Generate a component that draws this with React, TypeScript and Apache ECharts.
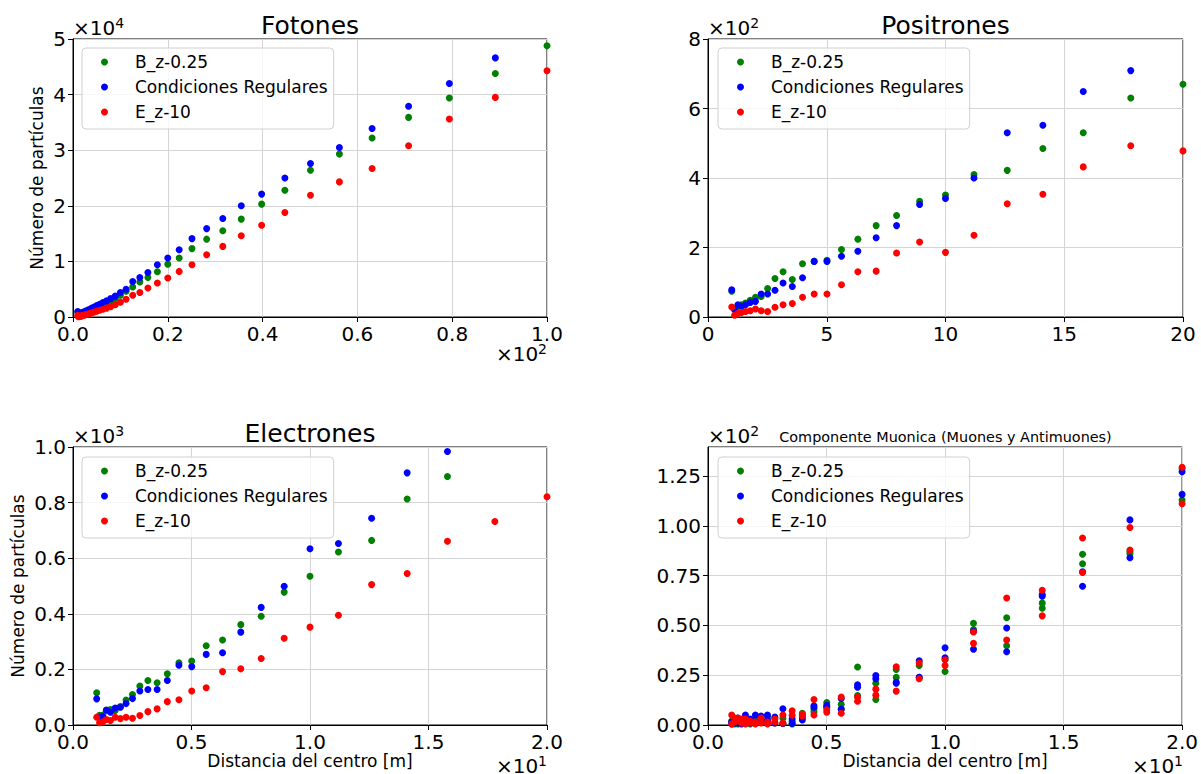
import React, { useEffect, useRef } from "react";
import * as echarts from "echarts";

const FONT = "DejaVu Sans";

// Distances from centre [m]
const distLong = [1.0, 1.12, 1.26, 1.41, 1.58, 1.78, 2.0, 2.24, 2.51, 2.82, 3.16, 3.55, 3.98, 4.47, 5.01, 5.62, 6.31, 7.08, 7.94, 8.91, 10.0, 11.2, 12.6, 14.1, 15.8, 17.8, 20.0, 22.4, 25.1, 28.2, 31.6, 35.5, 39.8, 44.7, 50.1, 56.2, 63.1, 70.8, 79.4, 89.1, 100.0];
const distShort = [1.0, 1.12, 1.26, 1.41, 1.58, 1.78, 2.0, 2.24, 2.51, 2.82, 3.16, 3.55, 3.98, 4.47, 5.01, 5.62, 6.31, 7.08, 7.94, 8.91, 10.0, 11.2, 12.6, 14.1, 15.8, 17.8, 20.0];

const seriesNames = ["B_z-0.25", "Condiciones Regulares", "E_z-10"];
const seriesColors = ["#008000", "#0000ff", "#ff0000"];

// Fotones
const fotGreen = [900, 350, 400, 450, 500, 550, 600, 700, 800, 900, 1000, 1150, 1300, 1500, 1700, 1950, 2200, 2500, 2850, 3300, 3900, 4650, 5400, 6300, 7100, 8150, 9500, 10600, 12300, 14000, 15500, 17600, 20300, 22800, 26400, 29300, 32200, 35900, 39400, 43800, 48800];
const fotBlue = [1000, 450, 500, 550, 600, 700, 800, 900, 1000, 1100, 1250, 1400, 1600, 1800, 2050, 2300, 2600, 2900, 3300, 3750, 4400, 5000, 6400, 7100, 8000, 9400, 10600, 12100, 14100, 15900, 17700, 20000, 22100, 25000, 27600, 30500, 33900, 37900, 42000, 46600];
const fotRed = [300, 50, 80, 100, 150, 200, 250, 300, 350, 450, 550, 650, 750, 900, 1050, 1200, 1400, 1600, 1850, 2200, 2650, 3200, 3900, 4400, 5200, 6100, 7000, 8200, 9400, 11200, 12700, 14600, 16500, 18800, 21900, 24300, 26700, 30800, 35600, 39500, 44300];

// Positrones
const posGreen = [74, 25, 30, 35, 40, 48, 57, 59, 82, 111, 130, 108, 153, 160, 163, 194, 224, 263, 292, 333, 351, 410, 422, 485, 530, 630, 670];
const posBlue = [78, 21, 35, 31, 35, 42, 45, 66, 66, 77, 98, 88, 113, 160, 160, 175, 189, 228, 263, 324, 341, 400, 530, 552, 649, 709];
const posRed = [29, 5, 10, 13, 16, 18, 23, 18, 16, 28, 35, 39, 57, 66, 66, 93, 130, 132, 184, 216, 186, 235, 326, 353, 432, 493, 478];

// Electrones
const eleGreen = [116, 35, 36, 54, 56, 52, 66, 90, 110, 140, 160, 152, 184, 224, 230, 285, 306, 361, 391, 478, 535, 622, 664, 813, 894];
const eleBlue = [94, 28, 30, 53, 46, 61, 64, 77, 95, 122, 128, 128, 160, 215, 210, 254, 260, 334, 423, 499, 634, 653, 744, 907, 984];
const eleRed = [28, 8, 12, 20, 16, 28, 23, 28, 24, 34, 48, 58, 84, 91, 122, 134, 192, 202, 239, 312, 352, 395, 505, 545, 661, 732, 821];

// Componente muonica (muones / antimuones)
const muGreenA = [2.0, 1.0, 2.0, 1.5, 3.0, 2.0, 3.0, 2.5, 4.0, 3.5, 3.4, 1.7, 5.9, 7.9, 11.3, 10.4, 29.1, 21.0, 27.9, 29.9, 33.0, 51.1, 53.9, 61.2, 85.7, 87.0, 128.5];
const muGreenB = [1.0, 0.5, 0.5, 1.0, 1.0, 0.5, 1.0, 2.0, 1.5, 1.0, 0.8, 0.5, 5.0, 6.5, 9.0, 7.9, 14.8, 12.8, 23.9, 24.0, 26.9, 47.9, 39.8, 58.6, 81.0, 86.0, 113.0];
const muBlueA = [1.5, 2.0, 3.5, 2.5, 5.0, 3.0, 5.0, 4.5, 5.0, 4.0, 8.2, 3.0, 3.7, 9.7, 9.9, 13.3, 20.2, 24.9, 21.0, 32.3, 38.8, 38.0, 48.7, 65.5, 69.7, 103.0, 127.2];
const muBlueB = [0.5, 1.0, 1.0, 0.5, 2.0, 1.0, 1.5, 2.0, 2.5, 1.0, 0.8, 0.8, 2.5, 8.9, 9.0, 8.0, 19.0, 23.2, 21.5, 23.9, 33.8, 47.0, 36.8, 64.7, 77.0, 84.0, 115.8];
const muRedA = [5.0, 3.5, 3.5, 3.0, 3.0, 2.0, 1.5, 3.5, 1.5, 3.0, 5.0, 7.1, 5.4, 12.8, 7.6, 14.1, 13.9, 18.0, 29.2, 31.1, 32.8, 46.7, 63.8, 67.7, 93.9, 99.2, 129.4];
const muRedB = [0.5, 1.5, 2.5, 1.0, 0.5, 1.0, 0.5, 1.0, 0.5, 1.5, 1.0, 4.9, 4.5, 5.0, 6.4, 5.9, 11.9, 15.0, 17.0, 23.2, 29.9, 41.0, 42.7, 54.8, 76.6, 87.9, 111.1];

const pts = (xs: number[], ys: number[]) => ys.map((y, i) => [xs[i], y]);

const grids = [
  { left: 73, top: 39, width: 474, height: 278 },
  { left: 708, top: 39, width: 475, height: 278 },
  { left: 73, top: 447, width: 474, height: 278 },
  { left: 708, top: 447, width: 475, height: 278 },
];

function axisCommon() {
  return {
    axisLine: { show: true, onZero: false, lineStyle: { color: "#000", width: 1 } },
    axisTick: { show: true, length: 5, lineStyle: { color: "#000", width: 1 } },
    splitLine: { show: true, lineStyle: { color: "#d4d4d4", width: 1 } },
  };
}

function labelStyle(formatter: (v: number) => string, margin: number) {
  return { fontSize: 20, color: "#000", fontFamily: FONT, margin, formatter };
}

export default function App() {
  const ref = useRef<HTMLDivElement>(null);

  useEffect(() => {
    if (!ref.current) return;
    const chart = echarts.init(ref.current, undefined, { renderer: "svg" });

    const xAxes = [
      { gridIndex: 0, type: "value", min: 0, max: 100, interval: 20, ...axisCommon(), axisLabel: labelStyle((v) => (v / 100).toFixed(1), 7) },
      { gridIndex: 1, type: "value", min: 0, max: 20, interval: 5, ...axisCommon(), axisLabel: labelStyle((v) => String(v), 7) },
      {
        gridIndex: 2, type: "value", min: 0, max: 20, interval: 5, ...axisCommon(), axisLabel: labelStyle((v) => (v / 10).toFixed(1), 7),
        name: "Distancia del centro [m]", nameLocation: "middle", nameGap: 27,
        nameTextStyle: { fontSize: 17, color: "#000", fontFamily: FONT },
      },
      {
        gridIndex: 3, type: "value", min: 0, max: 20, interval: 5, ...axisCommon(), axisLabel: labelStyle((v) => (v / 10).toFixed(1), 7),
        name: "Distancia del centro [m]", nameLocation: "middle", nameGap: 27,
        nameTextStyle: { fontSize: 17, color: "#000", fontFamily: FONT },
      },
    ];

    const yAxes = [
      {
        gridIndex: 0, type: "value", min: 0, max: 50000, interval: 10000, ...axisCommon(), axisLabel: labelStyle((v) => String(v / 10000), 7),
        name: "Número de partículas", nameLocation: "middle", nameGap: 28,
        nameTextStyle: { fontSize: 17, color: "#000", fontFamily: FONT },
      },
      { gridIndex: 1, type: "value", min: 0, max: 800, interval: 200, ...axisCommon(), axisLabel: labelStyle((v) => String(v / 100), 7) },
      {
        gridIndex: 2, type: "value", min: 0, max: 1000, interval: 200, ...axisCommon(), axisLabel: labelStyle((v) => (v / 1000).toFixed(1), 7),
        name: "Número de partículas", nameLocation: "middle", nameGap: 47,
        nameTextStyle: { fontSize: 17, color: "#000", fontFamily: FONT },
      },
      {
        gridIndex: 3, type: "value", min: 0, max: 139.6, interval: 25, ...axisCommon(),
        axisLabel: { ...labelStyle((v) => (Math.abs(v % 25) < 1e-6 ? (v / 100).toFixed(2) : ""), 7), showMaxLabel: false },
      },
    ];

    const series: any[] = [];
    const mk = (idx: number, c: number, data: number[][]) => ({
      type: "scatter", name: seriesNames[c], xAxisIndex: idx, yAxisIndex: idx,
      data, symbol: "circle", symbolSize: 7,
      itemStyle: { color: seriesColors[c], opacity: 1 }, clip: true,
    });
    const addSeries = (idx: number, data: number[][][]) => {
      data.forEach((d, c) => series.push(mk(idx, c, d)));
    };
    addSeries(0, [pts(distLong, fotGreen), pts(distLong, fotBlue), pts(distLong, fotRed)]);
    addSeries(1, [pts(distShort, posGreen), pts(distShort, posBlue), pts(distShort, posRed)]);
    addSeries(2, [pts(distShort, eleGreen), pts(distShort, eleBlue), pts(distShort, eleRed)]);
    // muon panel: two point sets (muones, antimuones) per configuration
    [[muGreenA, muGreenB], [muBlueA, muBlueB], [muRedA, muRedB]].forEach((pair, c) => {
      pair.forEach((arr) => series.push(mk(3, c, pts(distShort, arr))));
    });

    const legendPos = [
      { left: 82, top: 48 },
      { left: 718, top: 48 },
      { left: 82, top: 457 },
      { left: 718, top: 457 },
    ];
    const legends = legendPos.map((p) => ({
      ...p,
      orient: "vertical",
      data: seriesNames,
      icon: "circle",
      itemWidth: 7,
      itemHeight: 7,
      itemGap: 5,
      padding: [4, 6, 7, 19],
      backgroundColor: "rgba(255,255,255,0.8)",
      borderColor: "#d0d0d0",
      borderWidth: 1,
      borderRadius: 4,
      z: 10,
      selectedMode: false,
      itemStyle: { opacity: 1 },
      textStyle: { fontSize: 17, lineHeight: 20, color: "#000", fontFamily: FONT, padding: [0, 0, 0, 22] },
    }));

    const txt = (text: string, x: number, baseline: number, fs: number, align: string = "left") => ({
      type: "text",
      x,
      y: baseline - 0.35 * fs,
      style: { text, fontSize: fs, fontFamily: FONT, fill: "#000", align, verticalAlign: "middle" },
    });
    // power-of-ten offset labels, "×10" + superscript
    const offset = (exp: string, xLeft: number, baseline: number) => [
      txt("×10", xLeft, baseline, 20),
      txt(exp, xLeft + 42.2, baseline - 7, 14),
    ];
    const offsetRight = (exp: string, xRight: number, baseline: number) => offset(exp, xRight - 8.9 - 42.2, baseline);

    const graphic = [
      txt("Fotones", 310, 34, 25, "center"),
      txt("Positrones", 945.5, 34, 25, "center"),
      txt("Electrones", 310, 442, 25, "center"),
      txt("Componente Muonica (Muones y Antimuones)", 945.5, 442, 14.4, "center"),
      ...offset("4", 73, 35),
      ...offsetRight("2", 547, 361),
      ...offset("2", 708, 35),
      ...offset("3", 73, 443),
      ...offsetRight("1", 547, 773),
      ...offset("2", 708, 443),
      ...offsetRight("1", 1183, 773),
    ];

    chart.setOption({
      animation: false,
      backgroundColor: "#ffffff",
      textStyle: { fontFamily: FONT },
      grid: grids.map((g) => ({ ...g, show: true, borderColor: "#000", borderWidth: 1, containLabel: false })),
      xAxis: xAxes,
      yAxis: yAxes,
      legend: legends,
      series,
      graphic,
    } as any);

    return () => chart.dispose();
  }, []);

  return <div ref={ref} style={{ position: "fixed", left: 0, top: 0, width: 1201, height: 774 }} />;
}
